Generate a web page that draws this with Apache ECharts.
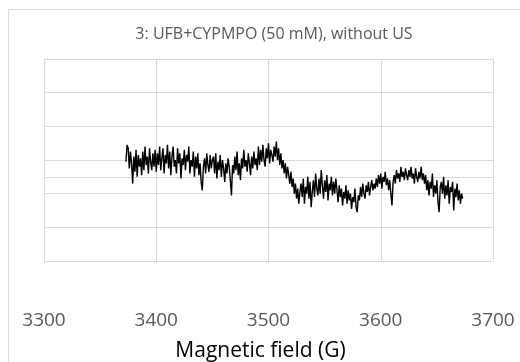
<!DOCTYPE html>
<html>
<head>
<meta charset="utf-8">
<script src="https://cdn.jsdelivr.net/npm/echarts@6/dist/echarts.min.js"></script>
<style>
  html, body { margin: 0; padding: 0; background: #fff; }
  #chart { width: 520px; height: 362px; }
</style>
</head>
<body>
<div id="chart"></div>
<script>
// ESR spectrum: field positions (G) and signal intensity (arb. units, baseline at 2.5)
const fields = [
  3373,3374,3375,3376,3377,3378,3379,3380,3381,3382,
  3383,3384,3385,3386,3387,3388,3389,3390,3391,3392,
  3393,3394,3395,3396,3397,3398,3399,3400,3401,3402,
  3403,3404,3405,3406,3407,3408,3409,3410,3411,3412,
  3413,3414,3415,3416,3417,3418,3419,3420,3421,3422,
  3423,3424,3425,3426,3427,3428,3429,3430,3431,3432,
  3433,3434,3435,3436,3437,3438,3439,3440,3441,3442,
  3443,3444,3445,3446,3447,3448,3449,3450,3451,3452,
  3453,3454,3455,3456,3457,3458,3459,3460,3461,3462,
  3463,3464,3465,3466,3467,3468,3469,3470,3471,3472,
  3473,3474,3475,3476,3477,3478,3479,3480,3481,3482,
  3483,3484,3485,3486,3487,3488,3489,3490,3491,3492,
  3493,3494,3495,3496,3497,3498,3499,3500,3501,3502,
  3503,3504,3505,3506,3507,3508,3509,3510,3511,3512,
  3513,3514,3515,3516,3517,3518,3519,3520,3521,3522,
  3523,3524,3525,3526,3527,3528,3529,3530,3531,3532,
  3533,3534,3535,3536,3537,3538,3539,3540,3541,3542,
  3543,3544,3545,3546,3547,3548,3549,3550,3551,3552,
  3553,3554,3555,3556,3557,3558,3559,3560,3561,3562,
  3563,3564,3565,3566,3567,3568,3569,3570,3571,3572,
  3573,3574,3575,3576,3577,3578,3579,3580,3581,3582,
  3583,3584,3585,3586,3587,3588,3589,3590,3591,3592,
  3593,3594,3595,3596,3597,3598,3599,3600,3601,3602,
  3603,3604,3605,3606,3607,3608,3609,3610,3611,3612,
  3613,3614,3615,3616,3617,3618,3619,3620,3621,3622,
  3623,3624,3625,3626,3627,3628,3629,3630,3631,3632,
  3633,3634,3635,3636,3637,3638,3639,3640,3641,3642,
  3643,3644,3645,3646,3647,3648,3649,3650,3651,3652,
  3653,3654,3655,3656,3657,3658,3659,3660,3661,3662,
  3663,3664,3665,3666,3667,3668,3669,3670,3671,3672,
  3673
];

const intensity = [
  // 3373-3400
  2.95,3.45,3.35,2.75,3.25,2.9,2.3,3.1,2.65,3.3,
  2.5,3.15,2.8,3.05,2.55,3.25,2.7,3.4,2.85,3.1,
  2.6,3.35,2.95,2.7,3.2,2.8,3.3,2.65,
  // 3401-3450
  3.2,2.85,3.4,2.7,3.05,3.35,2.6,3.15,2.9,3.45,
  2.75,3.25,2.55,3.1,3.4,2.8,3.0,2.6,3.35,2.9,
  3.2,2.45,3.05,2.85,3.3,2.7,3.15,2.95,3.4,2.6,
  3.0,2.8,3.25,2.5,3.1,2.75,3.2,2.55,2.9,2.35,
  2.1,2.8,3.05,2.6,3.2,2.85,2.65,3.15,2.75,3.0,
  // 3451-3490
  3.1,2.6,3.2,2.45,2.95,2.7,3.15,2.5,3.0,2.75,
  2.35,2.9,2.6,3.05,2.8,2.4,1.95,2.85,2.6,3.1,
  2.7,3.25,2.55,2.9,2.4,3.05,2.75,3.3,2.8,3.0,
  2.65,3.2,2.9,2.55,3.1,2.75,3.25,2.85,3.05,2.7,
  // 3491-3512
  3.4,2.85,3.3,2.95,3.45,3.0,2.8,3.35,3.05,3.5,
  2.9,3.3,3.15,2.95,3.4,3.1,3.55,3.0,3.35,2.85,
  3.2,2.75,
  // 3513-3528
  3.0,2.6,2.9,2.45,2.8,2.55,2.3,2.65,2.2,2.45,
  2.0,2.3,1.85,2.15,1.7,2.05,
  // 3529-3560
  2.3,1.9,2.45,1.7,2.2,2.0,2.5,1.85,2.35,1.6,
  2.05,2.4,1.9,2.6,2.15,1.95,2.45,2.0,2.7,2.25,
  1.85,2.4,2.05,2.55,1.8,2.3,2.1,2.5,1.95,2.35,
  2.0,2.45,
  // 3561-3595
  2.1,1.75,2.25,1.9,2.15,1.65,2.05,1.85,2.25,1.7,
  2.1,1.8,2.0,1.55,1.9,1.75,2.15,1.6,1.45,1.95,
  1.8,2.2,1.9,2.3,2.0,1.85,2.25,2.05,2.35,1.95,
  2.2,2.4,2.1,2.3,2.15,
  // 3596-3638
  2.45,2.2,2.55,2.3,2.6,2.15,2.5,2.35,2.65,2.25,
  2.45,2.1,2.4,2.0,1.65,2.35,2.55,2.3,2.7,2.45,
  2.6,2.35,2.8,2.5,2.65,2.4,2.75,2.55,2.4,2.7,
  2.5,2.8,2.45,2.6,2.3,2.75,2.5,2.35,2.65,2.45,
  2.8,2.4,2.6,
  // 3639-3673
  2.3,2.55,2.1,2.4,1.95,2.35,2.15,2.6,1.9,2.25,
  2.0,2.4,1.75,1.45,2.2,2.35,2.0,2.5,1.85,2.25,
  1.95,2.4,1.7,2.2,2.05,2.35,1.5,2.15,1.9,2.3,
  1.8,2.1,1.7,2.0,1.85
];

const xTicks = { min: 3300, max: 3700, step: 100 };
const baseline = 2.5;
const titleText = '3: UFB+CYPMPO (50 mM), without US';
const xAxisTitle = 'Magnetic field (G)';

const points = fields.map((f, i) => [f, intensity[i]]);

const chart = echarts.init(document.getElementById('chart'), null, { renderer: 'canvas' });
const FONT = '"Open Sans", "Liberation Sans", sans-serif';
const GRID_COLOR = '#d9d9d9';

chart.setOption({
  animation: false,
  backgroundColor: '#ffffff',
  textStyle: { fontFamily: FONT },
  graphic: [{
    type: 'rect',
    shape: { x: 8.5, y: 9.5, width: 600, height: 600 },
    style: { fill: 'none', stroke: GRID_COLOR, lineWidth: 1 },
    silent: true,
    z: -1
  }],
  title: {
    text: titleText,
    left: 269,
    textAlign: 'center',
    top: 21,
    textStyle: { fontFamily: FONT, fontSize: 16, fontWeight: 'normal', color: '#595959' }
  },
  grid: {
    left: 44, right: 27, top: 59, bottom: 101,
    containLabel: false,
    outerBoundsMode: 'none'
  },
  xAxis: {
    type: 'value',
    min: xTicks.min,
    max: xTicks.max,
    interval: xTicks.step,
    name: xAxisTitle,
    nameLocation: 'middle',
    nameGap: 80,
    nameTextStyle: { fontFamily: FONT, fontSize: 21, color: '#000000', padding: [0, 16, 0, 0] },
    axisLine: { show: false },
    axisTick: { show: false },
    axisLabel: {
      margin: 50,
      fontFamily: FONT,
      fontSize: 19,
      color: '#595959',
      formatter: (v) => String(v)
    },
    splitLine: { show: true, lineStyle: { color: GRID_COLOR, width: 1 } }
  },
  yAxis: {
    type: 'value',
    min: 0,
    max: 6,
    interval: 1,
    axisLine: { show: false },
    axisTick: { show: false },
    axisLabel: { show: false },
    splitLine: { show: true, lineStyle: { color: GRID_COLOR, width: 1 } }
  },
  series: [{
    type: 'line',
    data: points,
    showSymbol: false,
    symbol: 'none',
    lineStyle: { color: '#000000', width: 1.4 },
    markLine: {
      silent: true,
      symbol: 'none',
      label: { show: false },
      lineStyle: { color: GRID_COLOR, type: 'solid', width: 1 },
      data: [{ yAxis: baseline }],
      z: 0
    },
    z: 3
  }]
});
</script>
</body>
</html>
